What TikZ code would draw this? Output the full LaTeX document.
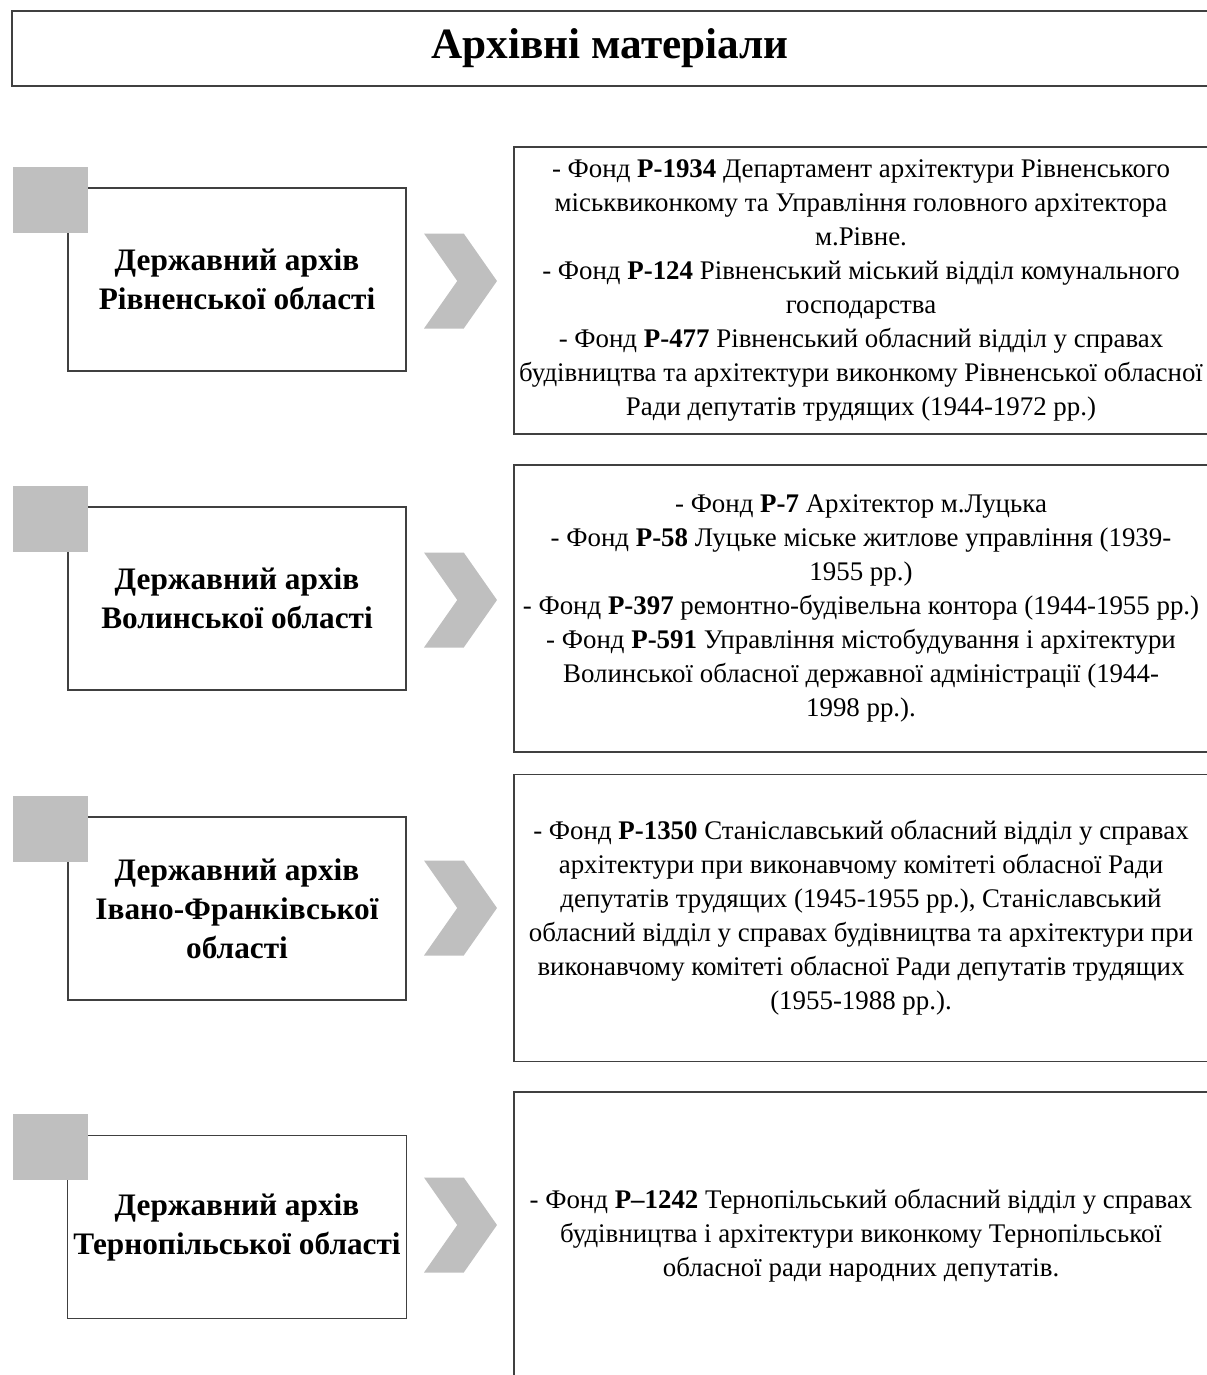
\documentclass[tikz,border=0pt]{standalone}
\usepackage{fontspec}
\setmainfont{Liberation Serif}
\usetikzlibrary{shapes.symbols}
\tikzset{archive/.style={draw=black!75, line width=1pt, fill=white,
                         minimum width=6.76cm, minimum height=3.66cm, align=center,
                         font=\fontsize{17.8}{22.2}\selectfont\bfseries},
         fonds/.style={draw=black!75, line width=1pt, minimum width=13.88cm,
                       minimum height=5.74cm, align=center, inner sep=2pt,
                       font=\fontsize{15.3}{19.35}\selectfont},
         marker/.style={fill=black!25, minimum width=1.5cm, minimum height=1.32cm,
                        inner sep=0pt},
         chevron/.style={signal, signal to=east, signal from=west,
                         signal pointer angle=110, fill=black!25, inner sep=0pt,
                         minimum width=1.46cm, minimum height=1.9cm}}

\begin{document}
\begin{tikzpicture}
      \useasboundingbox (0, 0) rectangle (24.12, -27.5);
      \node[draw=black!75, line width=1pt, minimum width=23.92cm, minimum height=1.5cm,
            font=\fontsize{24.6}{28}\selectfont\bfseries] (title) at (12.2, -0.97) {Архівні матеріали};

      % Рівне
      \node[archive] (rivne) at (4.74, -5.59) {Державний архів\\Рівненської області};
      \node[marker] (mrivne) at (1.01, -4.0) {};
      \node[chevron] (crivne) at (9.21, -5.62) {};
      \node[fonds] (frivne) at (17.22, -5.81) {- Фонд \textbf{Р-1934} Департамент архітектури Рівненського\\
        міськвиконкому та Управління головного архітектора\\
        м.Рівне.\\
        - Фонд \textbf{Р-124} Рівненський міський відділ комунального\\
        господарства\\
        - Фонд \textbf{Р-477} Рівненський обласний відділ у справах\\
        будівництва та архітектури виконкому Рівненської обласної\\
        Ради депутатів трудящих (1944-1972 рр.)};

      % Луцьк
      \node[archive] (volyn) at (4.74, -11.97) {Державний архів\\Волинської області};
      \node[marker] (mvolyn) at (1.01, -10.37) {};
      \node[chevron] (cvolyn) at (9.21, -12.0) {};
      \node[fonds] (fvolyn) at (17.22, -12.17) {- Фонд \textbf{Р-7} Архітектор м.Луцька\\
        - Фонд \textbf{Р-58} Луцьке міське житлове управління (1939-\\
        1955 рр.)\\
        - Фонд \textbf{Р-397} ремонтно-будівельна контора (1944-1955 рр.)\\
        - Фонд \textbf{Р-591} Управління містобудування і архітектури\\
        Волинської обласної державної адміністрації (1944-\\
        1998 рр.).};

      % Івано-Франківськ
      \node[archive] (frank) at (4.74, -18.17) {Державний архів\\Івано-Франківської\\області};
      \node[marker] (mfrank) at (1.01, -16.57) {};
      \node[chevron] (cfrank) at (9.21, -18.16) {};
      \node[fonds] (ffrank) at (17.22, -18.36) {- Фонд \textbf{Р-1350} Станіславський обласний відділ у справах\\
        архітектури при виконавчому комітеті обласної Ради\\
        депутатів трудящих (1945-1955 рр.), Станіславський\\
        обласний відділ у справах будівництва та архітектури при\\
        виконавчому комітеті обласної Ради депутатів трудящих\\
        (1955-1988 рр.).};

      % Тернопіль
      \node[archive] (ternop) at (4.74, -24.54) {Державний архів\\Тернопільської області};
      \node[marker] (mternop) at (1.01, -22.94) {};
      \node[chevron] (cternop) at (9.21, -24.5) {};
      \node[fonds] (fternop) at (17.22, -24.71) {- Фонд \textbf{Р–1242} Тернопільський обласний відділ у справах\\
        будівництва і архітектури виконкому Тернопільської\\
        обласної ради народних депутатів.};
    \end{tikzpicture}
\end{document}
